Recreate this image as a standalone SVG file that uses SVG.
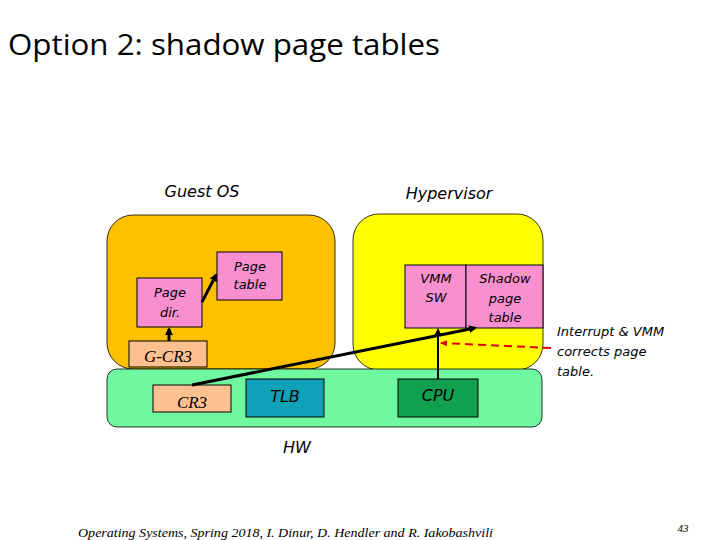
<svg xmlns="http://www.w3.org/2000/svg" width="720" height="540" viewBox="0 0 720 540">
<style>
.c{font-family:"DejaVu Sans","Liberation Sans",sans-serif;font-style:italic;fill:#000}
.t{font-family:"Liberation Serif",serif;font-style:italic;fill:#000}
.box{stroke:#000;stroke-width:1}
.pink{fill:#F890D0}
.peach{fill:#FFC090}
</style>
<defs>
<marker id="ah" markerWidth="8" markerHeight="8" refX="6" refY="4" orient="auto" markerUnits="userSpaceOnUse">
<path d="M0,0 L8,4 L0,8 z" fill="#000"/>
</marker>
<marker id="ahr" markerWidth="8" markerHeight="8" refX="6" refY="4" orient="auto" markerUnits="userSpaceOnUse">
<path d="M0,1 L7,4 L0,7 z" fill="#E00000"/>
</marker>
</defs>
<rect width="720" height="540" fill="#fff"/>
<text x="8" y="55" font-family="'Open Sans','Liberation Sans',sans-serif" font-size="29" textLength="432" lengthAdjust="spacingAndGlyphs" fill="#000">Option 2: shadow page tables</text>

<g id="guest">
<rect x="107" y="215" width="228" height="154" rx="26" fill="#FFC000" stroke="#000" stroke-width="0.8"/>
<text class="c" x="202" y="197" font-size="16" text-anchor="middle">Guest OS</text>
</g>
<g id="hypervisor">
<rect x="353" y="214" width="190" height="156" rx="26" fill="#FFFF00" stroke="#000" stroke-width="0.8"/>
<text class="c" x="449" y="199" font-size="16" text-anchor="middle">Hypervisor</text>
</g>
<g id="hw">
<rect x="107" y="369" width="435" height="58" rx="10" fill="#70F8A0" stroke="#000" stroke-width="0.8"/>
<text class="c" x="297" y="453" font-size="16" text-anchor="middle">HW</text>
</g>
<g id="pagedir">
<rect class="box pink" x="137" y="278" width="65" height="49"/>
<text class="c" x="170" y="297" font-size="13" text-anchor="middle">Page</text>
<text class="c" x="170" y="317" font-size="13" text-anchor="middle">dir.</text>
</g>
<g id="pagetable">
<rect class="box pink" x="217" y="252" width="65" height="48"/>
<text class="c" x="250" y="271" font-size="13" text-anchor="middle">Page</text>
<text class="c" x="250" y="289" font-size="13" text-anchor="middle">table</text>
</g>
<g id="gcr3">
<rect class="box peach" x="129" y="341" width="78" height="26"/>
<text class="t" x="168" y="362" font-size="17" text-anchor="middle">G-CR3</text>
</g>
<g id="cr3">
<rect class="box peach" x="153" y="385" width="78" height="27"/>
<text class="t" x="192" y="408" font-size="17" text-anchor="middle">CR3</text>
</g>
<g id="tlb">
<rect class="box" x="246" y="379" width="78" height="38" fill="#10A0B8"/>
<text class="c" x="285" y="402" font-size="16" text-anchor="middle">TLB</text>
</g>
<g id="vmmsw">
<rect class="box pink" x="405" y="265" width="61" height="63"/>
<text class="c" x="436" y="283" font-size="13" text-anchor="middle">VMM</text>
<text class="c" x="436" y="302" font-size="13" text-anchor="middle">SW</text>
</g>
<g id="shadow">
<rect class="box pink" x="466" y="265" width="77" height="63"/>
<text class="c" x="505" y="283" font-size="13" text-anchor="middle">Shadow</text>
<text class="c" x="505" y="303" font-size="13" text-anchor="middle">page</text>
<text class="c" x="505" y="322" font-size="13" text-anchor="middle">table</text>
</g>
<g id="cpu">
<rect class="box" x="398" y="379" width="80" height="38" fill="#10A050"/>
<text class="c" x="438" y="401" font-size="16" text-anchor="middle">CPU</text>
</g>
<g id="note">
<text class="c" x="557" y="336" font-size="13">Interrupt &amp; VMM</text>
<text class="c" x="557" y="356" font-size="13">corrects page</text>
<text class="c" x="557" y="376" font-size="13">table.</text>
</g>
<g id="connectors" fill="none">
<line x1="169" y1="341" x2="169" y2="329" stroke="#000" stroke-width="3" marker-end="url(#ah)"/>
<line x1="202" y1="302" x2="216" y2="275" stroke="#000" stroke-width="3" marker-end="url(#ah)"/>
<line x1="192" y1="385" x2="475" y2="328" stroke="#000" stroke-width="3" marker-end="url(#ah)"/>
<line x1="438" y1="379" x2="438" y2="330" stroke="#000" stroke-width="2" marker-end="url(#ah)"/>
<line x1="551" y1="348" x2="441" y2="343" stroke="#E00000" stroke-width="2" stroke-dasharray="8,5" marker-end="url(#ahr)"/>
</g>
<text class="t" x="78" y="537" font-size="13" textLength="415" lengthAdjust="spacingAndGlyphs">Operating Systems, Spring 2018, I. Dinur, D. Hendler and R. Iakobashvili</text>
<text class="t" x="683" y="532" font-size="11" text-anchor="middle">43</text>
</svg>
